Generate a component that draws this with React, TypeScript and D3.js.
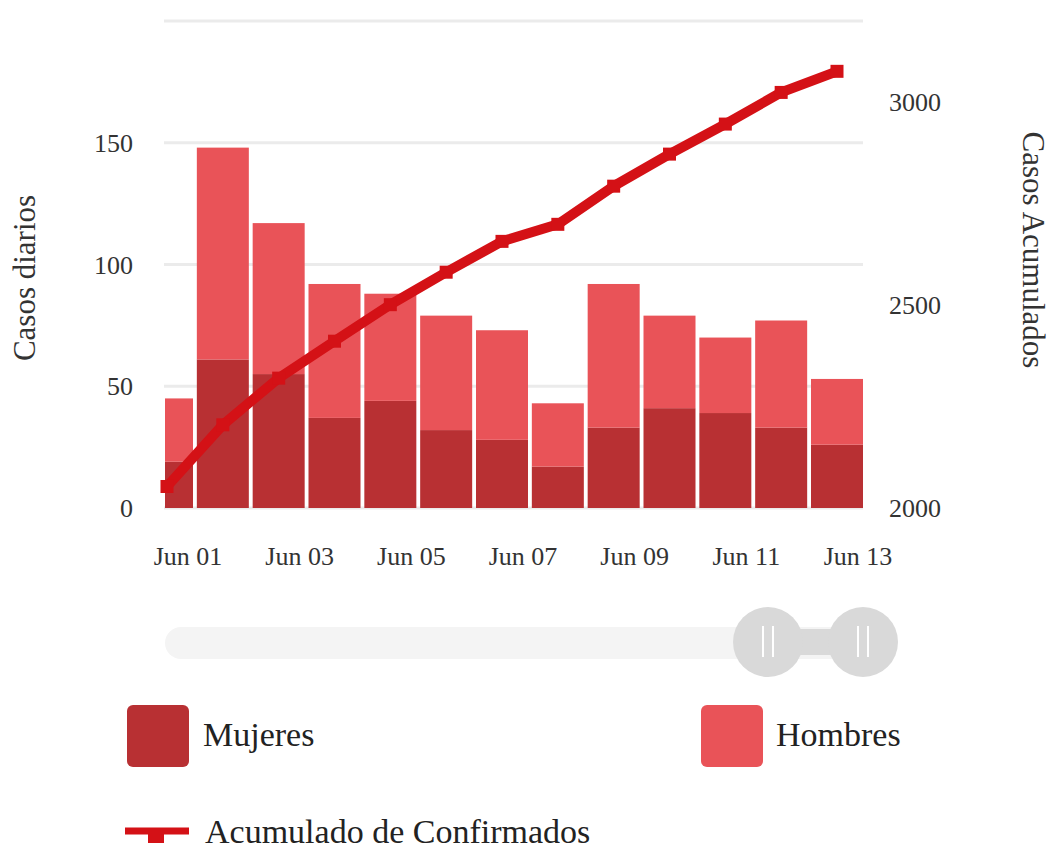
import React from "react";
import * as d3 from "d3";

const dates = ["2020-06-01","2020-06-02","2020-06-03","2020-06-04","2020-06-05","2020-06-06","2020-06-07","2020-06-08","2020-06-09","2020-06-10","2020-06-11","2020-06-12","2020-06-13"];
const mujeres = [19, 61, 55, 37, 44, 32, 28, 17, 33, 41, 39, 33, 26];
const hombres = [26, 87, 62, 55, 44, 47, 45, 26, 59, 38, 31, 44, 27];
const acumulado = [2053, 2205, 2320, 2411, 2501, 2581, 2657, 2699, 2793, 2872, 2946, 3024, 3076];
const leftTicks = [0, 50, 100, 150, 200];
const leftLabels = [0, 50, 100, 150];
const rightTicks = [2000, 2500, 3000];
const xTickDates = ["2020-06-01","2020-06-03","2020-06-05","2020-06-07","2020-06-09","2020-06-11","2020-06-13"];

const C_DARK = "#b83033";
const C_LIGHT = "#e95358";
const C_LINE = "#d41116";
const FONT = "'Liberation Serif', 'Times New Roman', serif";

const parse = d3.utcParse("%Y-%m-%d");
const fmt = d3.utcFormat("%b %d");

export default function App() {
  const W = 1052, H = 852;
  const plotL = 164, plotR = 863, plotT = 21, plotB = 508;
  const x = d3.scaleUtc().domain([parse(dates[0])!, parse(dates[dates.length - 1])!]).range([167, 837]);
  const yL = d3.scaleLinear().domain([0, 200]).range([plotB, plotT]);
  const yR = d3.scaleLinear().domain([2000, 3200]).range([plotB, plotT]);
  const barW = 52;

  const rows = dates.map((d, i) => ({ date: parse(d)!, m: mujeres[i], h: hombres[i], a: acumulado[i] }));
  const stack = d3.stack<any>().keys(["m", "h"])(rows as any);
  const line = d3.line<any>().x(d => x(d.date)).y(d => yR(d.a));

  const mk = 13;

  return (
    <svg width={W} height={H} style={{ position: "absolute", left: 0, top: 0, background: "#fff" }} fontFamily={FONT}>
      <defs>
        <clipPath id="plotclip">
          <rect x={plotL + 1} y={0} width={plotR - plotL - 1} height={plotB + 2} />
        </clipPath>
      </defs>
      {/* gridlines */}
      {leftTicks.map(t => (
        <line key={t} x1={plotL} x2={plotR} y1={yL(t)} y2={yL(t)} stroke="#ebebeb" strokeWidth={3} />
      ))}
      {/* bars */}
      <g clipPath="url(#plotclip)">
        {stack.map((s, si) => (
          <g key={si} fill={si === 0 ? C_DARK : C_LIGHT}>
            {s.map((seg: any, i: number) => (
              <rect key={i} x={x(seg.data.date) - barW / 2} y={yL(seg[1])} width={barW} height={yL(seg[0]) - yL(seg[1])} />
            ))}
          </g>
        ))}
      </g>
      {/* line */}
      <path d={line(rows) || ""} fill="none" stroke={C_LINE} strokeWidth={10} strokeLinejoin="round" />
      {rows.map((r, i) => (
        <rect key={i} x={x(r.date) - mk / 2} y={yR(r.a) - mk / 2} width={mk} height={mk} fill={C_LINE} />
      ))}
      {/* left axis */}
      {leftLabels.map(t => (
        <text key={t} x={133} y={yL(t)} dy="0.35em" textAnchor="end" fontSize={26} fill="#333">{t}</text>
      ))}
      {/* right axis */}
      {rightTicks.map(t => (
        <text key={t} x={889} y={yR(t)} dy="0.35em" textAnchor="start" fontSize={26} fill="#333">{t}</text>
      ))}
      {/* x axis */}
      {xTickDates.map(d => (
        <text key={d} x={x(parse(d)!) + 21} y={565} textAnchor="middle" fontSize={26} fill="#333">{fmt(parse(d)!)}</text>
      ))}
      {/* axis titles */}
      <text transform="translate(35,278) rotate(-90)" textAnchor="middle" fontSize={31} fill="#333">Casos diarios</text>
      <text transform="translate(1023,250) rotate(90)" textAnchor="middle" fontSize={31} fill="#333">Casos Acumulados</text>
      {/* slider */}
      <rect x={165} y={627} width={715} height={32} rx={16} fill="#f4f4f4" />
      <rect x={790} y={629} width={60} height={26} fill="#d9d9d9" />
      {[768, 863].map(cx => (
        <g key={cx}>
          <circle cx={cx} cy={642} r={35} fill="#d9d9d9" />
          <line x1={cx - 5} x2={cx - 5} y1={626} y2={657} stroke="#fff" strokeWidth={2} />
          <line x1={cx + 5} x2={cx + 5} y1={626} y2={657} stroke="#fff" strokeWidth={2} />
        </g>
      ))}
      {/* legend */}
      <rect x={127} y={705} width={62} height={62} rx={6} fill={C_DARK} />
      <text x={203} y={746} fontSize={34} fill="#222">Mujeres</text>
      <rect x={701} y={705} width={62} height={62} rx={6} fill={C_LIGHT} />
      <text x={776} y={746} fontSize={34} fill="#222">Hombres</text>
      <line x1={125} x2={189} y1={831} y2={831} stroke={C_LINE} strokeWidth={7} />
      <rect x={148} y={831} width={16} height={12} fill={C_LINE} />
      <text x={205} y={843} fontSize={34} fill="#222">Acumulado de Confirmados</text>
    </svg>
  );
}
